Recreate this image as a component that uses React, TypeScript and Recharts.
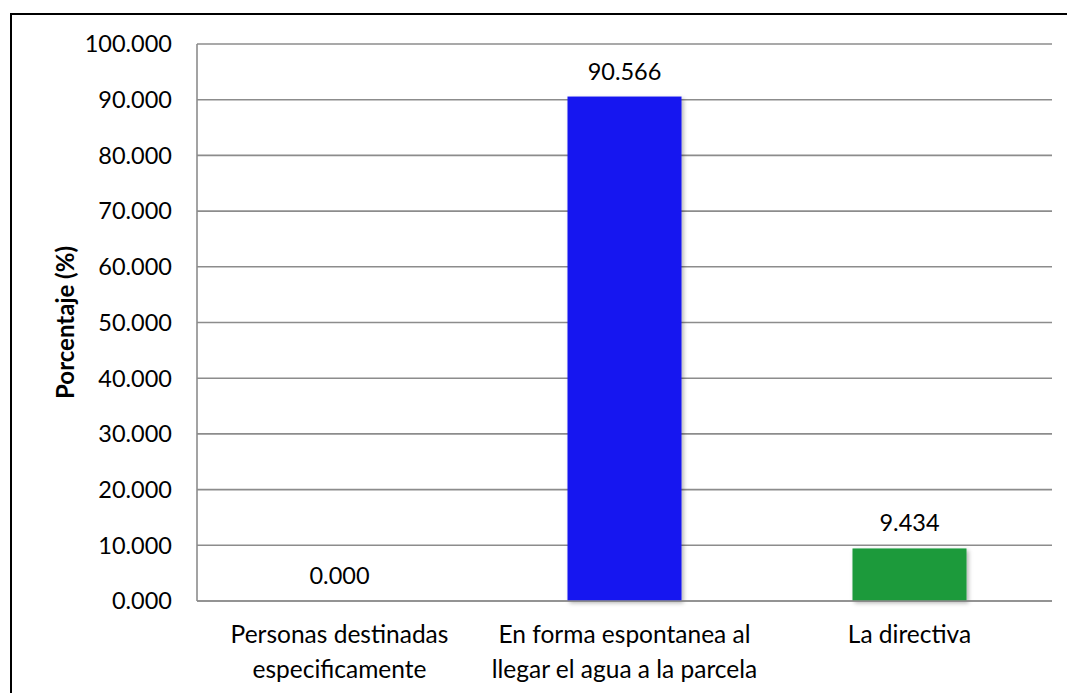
import React from "react";
import { BarChart, Bar, XAxis, YAxis, CartesianGrid, Cell, LabelList, Label } from "recharts";

const categories = [
  "Personas destinadas\nespecificamente",
  "En forma espontanea al\nllegar el agua a la parcela",
  "La directiva",
];
const values = [0.0, 90.566, 9.434];
const barColors = ["#1414F0", "#1414F0", "#1A9A3A"];
const yTicks = [0, 10, 20, 30, 40, 50, 60, 70, 80, 90, 100];
const yAxisTitle = "Porcentaje (%)";

const data = categories.map((c, i) => ({ name: c, value: values[i] }));

const FONT = "Lato, 'Open Sans', sans-serif";
const GRID = "#8c8c8c";

const CategoryTick = (props: any) => {
  const { x, y, payload } = props;
  const lines = String(payload.value).split("\n");
  return (
    <text x={x} y={y} textAnchor="middle" fontFamily={FONT} fontSize={24.5} fill="#000">
      {lines.map((l, i) => (
        <tspan key={i} x={x} dy={i === 0 ? 42 : 35}>
          {l}
        </tspan>
      ))}
    </text>
  );
};

const ShadowBar = (props: any) => {
  const { x, y, width, height, fill, index } = props;
  if (!height || height <= 0) return <g />;
  const id = `shadow-${index}`;
  return (
    <g>
      <defs>
        <filter id={id} x="-20%" y="-20%" width="140%" height="140%">
          <feDropShadow dx="2" dy="2" stdDeviation="2" floodColor="#000" floodOpacity="0.3" />
        </filter>
      </defs>
      <rect x={x} y={y} width={width} height={height} fill={fill} filter={`url(#${id})`} />
    </g>
  );
};

const YTitle = (props: any) => {
  const { viewBox } = props;
  const cx = viewBox.x + 64;
  const cy = viewBox.y + viewBox.height / 2;
  return (
    <text
      x={cx}
      y={cy}
      transform={`rotate(-90, ${cx}, ${cy})`}
      textAnchor="middle"
      dominantBaseline="central"
      fontFamily={FONT}
      fontWeight="bold"
      fontSize={24}
      fill="#000"
    >
      {yAxisTitle}
    </text>
  );
};

export default function App() {
  return (
    <div style={{ position: "absolute", left: 0, top: 0, width: 1067, height: 693, background: "#fff", overflow: "hidden" }}>
      <div
        style={{
          position: "absolute",
          left: 10,
          top: 13,
          width: 1080,
          height: 720,
          border: "2px solid #000",
          boxSizing: "border-box",
        }}
      />
      <div style={{ position: "absolute", left: 0, top: 0 }}>
        <BarChart
          width={1067}
          height={693}
          data={data}
          margin={{ top: 44, right: 15, bottom: 0, left: 0 }}
          barCategoryGap="30%"
          style={{ fontFamily: FONT }}
        >
          <CartesianGrid vertical={false} stroke={GRID} strokeWidth={1.6} />
          <XAxis
            dataKey="name"
            interval={0}
            tickLine={false}
            tickSize={0}
            tickMargin={0}
            height={92}
            axisLine={{ stroke: GRID, strokeWidth: 1.6 }}
            tick={<CategoryTick />}
          />
          <YAxis
            width={197}
            domain={[0, 100]}
            ticks={yTicks}
            interval={0}
            tickLine={false}
            tickSize={0}
            tickMargin={25}
            axisLine={{ stroke: GRID, strokeWidth: 1.6 }}
            tick={{ fill: "#000", fontSize: 23.5, fontFamily: FONT }}
            tickFormatter={(v: number) => v.toFixed(3)}
          >
            <Label content={<YTitle />} />
          </YAxis>
          <Bar dataKey="value" isAnimationActive={false} shape={<ShadowBar />}>
            {data.map((d, i) => (
              <Cell key={i} fill={barColors[i]} />
            ))}
            <LabelList
              dataKey="value"
              position="top"
              offset={17}
              formatter={(v: any) => Number(v).toFixed(3)}
              style={{ fill: "#000", fontSize: 23.5, fontFamily: FONT }}
            />
          </Bar>
        </BarChart>
      </div>
    </div>
  );
}
